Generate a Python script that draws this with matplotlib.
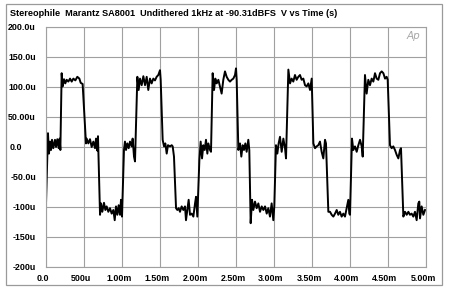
import matplotlib
matplotlib.use("Agg")
import matplotlib.pyplot as plt
from matplotlib.patches import Rectangle
from matplotlib.transforms import ScaledTranslation

title = "Stereophile  Marantz SA8001  Undithered 1kHz at -90.31dBFS  V vs Time (s)"

x_ticks_ms = [0.0, 0.5, 1.0, 1.5, 2.0, 2.5, 3.0, 3.5, 4.0, 4.5, 5.0]
x_tick_labels = ["0.0", "500u", "1.00m", "1.50m", "2.00m", "2.50m", "3.00m",
                 "3.50m", "4.00m", "4.50m", "5.00m"]
y_ticks_uV = [-200, -150, -100, -50, 0, 50, 100, 150, 200]
y_tick_labels = ["-200u", "-150u", "-100u", "-50.0u", "0.0", "50.00u",
                 "100.0u", "150.0u", "200.0u"]

# time in ms, voltage in microvolts
t_ms = [0.000, 0.026, 0.039, 0.053, 0.066, 0.079, 0.096, 0.118, 0.132, 0.149, 0.167, 0.180, 0.189,
        0.206, 0.219, 0.237, 0.254, 0.272, 0.294, 0.316, 0.338, 0.360, 0.386, 0.412, 0.439, 0.456, 0.482,
        0.513, 0.526, 0.535, 0.557, 0.579, 0.601, 0.623, 0.645, 0.658, 0.675, 0.684,
        0.711, 0.724, 0.741, 0.763, 0.781, 0.798, 0.820, 0.842, 0.864, 0.886, 0.904, 0.921, 0.939, 0.956, 0.974, 0.987, 1.000,
        1.026, 1.039, 1.053, 1.070, 1.088, 1.105, 1.127, 1.140, 1.158, 1.171,
        1.202, 1.219, 1.237, 1.259, 1.281, 1.303, 1.325, 1.346, 1.368, 1.390, 1.412, 1.434, 1.456, 1.478, 1.500, 1.509,
        1.535, 1.553, 1.570, 1.588, 1.605, 1.632, 1.654, 1.667, 1.684,
        1.711, 1.728, 1.746, 1.763, 1.785, 1.807, 1.829, 1.842, 1.860, 1.877, 1.895, 1.917, 1.939, 1.961, 1.974, 1.991,
        2.018, 2.035, 2.053, 2.070, 2.088, 2.105, 2.123, 2.136, 2.158, 2.171,
        2.193, 2.211, 2.228, 2.246, 2.268, 2.289, 2.311, 2.333, 2.355, 2.377, 2.399, 2.421, 2.443, 2.465, 2.487, 2.500, 2.509,
        2.531, 2.553, 2.570, 2.588, 2.605, 2.623, 2.640, 2.662, 2.675,
        2.693, 2.711, 2.728, 2.750, 2.772, 2.794, 2.816, 2.838, 2.860, 2.882, 2.904, 2.925, 2.947, 2.969, 2.991, 3.004,
        3.026, 3.044, 3.061, 3.079, 3.101, 3.123, 3.145, 3.158,
        3.189, 3.211, 3.232, 3.254, 3.276, 3.298, 3.320, 3.342, 3.364, 3.386, 3.408, 3.430, 3.452, 3.474, 3.496,
        3.518, 3.540, 3.561, 3.583, 3.605, 3.627, 3.649, 3.671, 3.684,
        3.715, 3.737, 3.759, 3.781, 3.803, 3.825, 3.846, 3.868, 3.890, 3.912, 3.934, 3.956, 3.978, 3.991, 4.000,
        4.026, 4.044, 4.066, 4.088, 4.110, 4.132, 4.154, 4.167,
        4.197, 4.219, 4.241, 4.263, 4.285, 4.307, 4.329, 4.351, 4.373, 4.395, 4.417, 4.439, 4.461, 4.482, 4.496,
        4.526, 4.548, 4.570, 4.592, 4.614, 4.636, 4.658, 4.671,
        4.702, 4.724, 4.746, 4.768, 4.789, 4.811, 4.833, 4.855, 4.877, 4.899, 4.912, 4.921, 4.943, 4.965, 4.987]
v_uV = [-94, 23, -11, 9, -5, 12, -2, 12, 0, 13, -2, 14, -5,
        123, 101, 113, 106, 112, 109, 114, 109, 114, 111, 117, 114, 107, 105,
        34, 6, 14, 6, 13, 0, 9, -2, 14, -6, 18,
        -113, -94, -108, -93, -105, -99, -108, -102, -111, -105, -122, -99, -113, -97, -113, -88, -116,
        -5, 9, -5, 6, -2, 9, 1, 14, -16, -24,
        117, 95, 114, 103, 118, 103, 117, 95, 114, 106, 114, 111, 117, 120, 128, 112,
        12, 1, 6, -11, 3, 1, 3, 1, -16,
        -102, -105, -102, -108, -99, -105, -99, -122, -105, -88, -113, -111, -116, -94, -83, -116,
        -22, 9, -19, 3, -5, 12, -11, 6, -5, -8,
        123, 95, 114, 106, 112, 101, 89, 112, 126, 117, 112, 109, 112, 114, 120, 131, 112,
        -5, 6, -16, 3, -5, 6, -8, 12, -5,
        -127, -88, -105, -91, -102, -94, -108, -99, -105, -99, -111, -102, -116, -94, -122, -99,
        3, -11, 6, 17, -8, 14, -2, -19,
        129, 106, 114, 109, 120, 112, 117, 120, 112, 114, 103, 101, 106, 95, 114,
        6, -2, 1, 3, 9, -8, -19, 12, 6,
        -108, -108, -113, -116, -111, -105, -113, -108, -116, -111, -116, -102, -88, -111, -113,
        14, -5, 1, -8, 3, 12, 1, -16,
        120, 89, 112, 103, 114, 109, 123, 114, 112, 123, 126, 123, 114, 117, 112,
        3, -2, 1, -5, -13, -19, -5, -2,
        -116, -108, -113, -108, -113, -111, -116, -108, -122, -94, -91, -119, -99, -113, -105]

W, H = 450, 295
fig = plt.figure(figsize=(W / 100, H / 100), dpi=100)
fig.patch.set_facecolor("white")

# outer frame
fig.patches.append(Rectangle((6 / W, 10 / H), 436 / W, 281 / H, transform=fig.transFigure,
                             fill=False, edgecolor="#9a9a9a", linewidth=0.9))

ax = fig.add_axes([46 / W, 28 / H, 380 / W, 240 / H])
ax.plot(t_ms, v_uV, color="black", linewidth=1.4, solid_joinstyle="round")
ax.set_xlim(0, 5)
ax.set_ylim(-200, 200)
ax.set_xticks(x_ticks_ms)
ax.set_xticklabels(x_tick_labels)
ax.set_yticks(y_ticks_uV)
ax.set_yticklabels(y_tick_labels)
ax.grid(True, color="#a0a0a0", linewidth=0.8)
for s in ax.spines.values():
    s.set_color("#a0a0a0")
    s.set_linewidth(0.8)
ax.tick_params(length=0, labelsize=6.4)
ax.tick_params(axis="x", pad=5)
ax.tick_params(axis="y", pad=7.2)
for lbl in ax.get_xticklabels() + ax.get_yticklabels():
    lbl.set_fontfamily("Liberation Sans")
    lbl.set_fontweight("bold")
for lbl in ax.get_xticklabels():
    lbl.set_transform(lbl.get_transform() + ScaledTranslation(-3 / 100, 0, fig.dpi_scale_trans))
for lbl in ax.get_yticklabels():
    if lbl.get_text() == "0.0":
        lbl.set_transform(lbl.get_transform() + ScaledTranslation(-14 / 100, 0, fig.dpi_scale_trans))

fig.text(10 / W, 1 - 14 / H, title, fontsize=6.6, fontweight="bold",
         family="Liberation Sans", ha="left", va="center")
ax.text(0.985, 0.985, "Ap", transform=ax.transAxes, fontsize=7.5, style="italic",
        color="#a8a8a8", ha="right", va="top", family="DejaVu Sans")

fig.savefig("out.png", dpi=100)
